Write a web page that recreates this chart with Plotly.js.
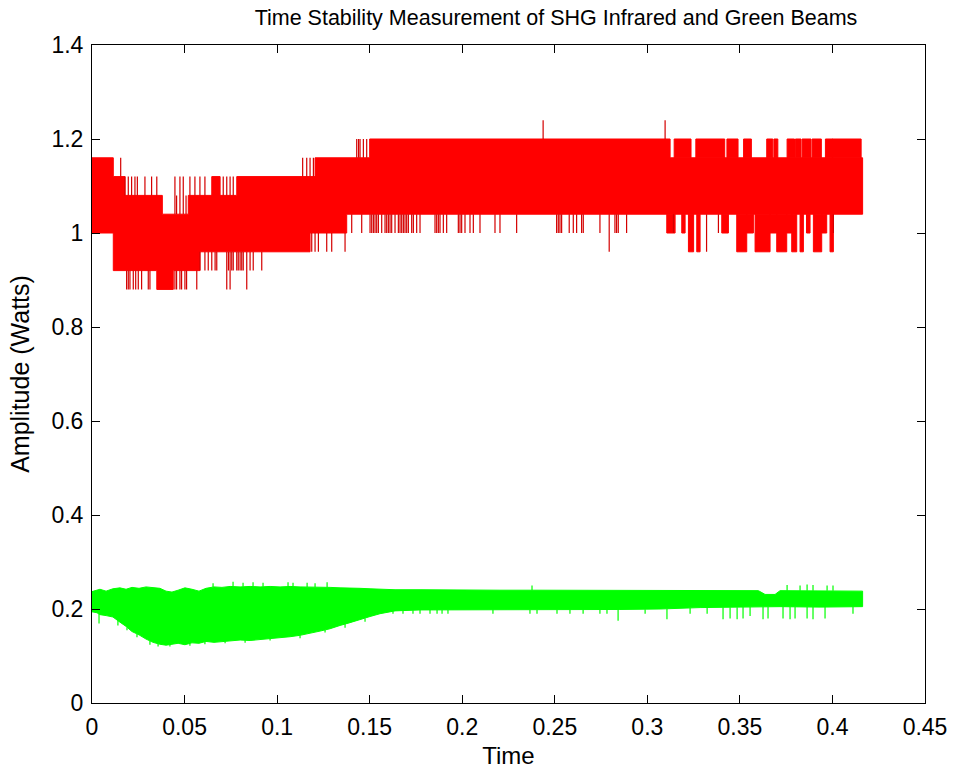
<!DOCTYPE html>
<html><head><meta charset="utf-8">
<script src="https://cdn.plot.ly/plotly-3.0.1.min.js"></script>
<style>html,body{margin:0;padding:0;background:#fff}#chart{width:956px;height:771px}</style>
</head><body><div id="chart"></div>
<script>
// ---------------- Infrared (red) beam ----------------
// solid core band of the quantised signal: breakpoints and hi/lo level per interval
const redCoreT  = [0, 0.0115, 0.0178, 0.035, 0.038, 0.0439, 0.052, 0.0583, 0.0782, 0.1178, 0.1205, 0.1376, 0.150, 0.3123, 0.4163];
const redCoreHi = [1.16, 1.12, 1.08, 1.08, 1.04, 1.04, 1.08, 1.08, 1.12, 1.12, 1.16, 1.16, 1.20, 1.16];
const redCoreLo = [1.00, 0.92, 0.92, 0.88, 0.88, 0.92, 0.92, 0.96, 0.96, 1.00, 1.00, 1.04, 1.04, 1.04];
// single-sample excursions beyond the core (time, level)
const redSpikeT = [0.0155, 0.0178, 0.0196, 0.0214, 0.0232, 0.0245, 0.0286, 0.0322, 0.0350,
  0.0448, 0.0457, 0.0475, 0.0493, 0.0508, 0.0529, 0.0556, 0.0583, 0.0610, 0.0709, 0.0728, 0.0746, 0.0763,
  0.1138, 0.1160, 0.1178, 0.1196, 0.1430, 0.1440, 0.1448, 0.1466, 0.1484, 0.2437, 0.3096,
  0.0187, 0.0196, 0.0205, 0.0223, 0.0236, 0.0250, 0.0268, 0.0304, 0.0313, 0.0448, 0.0457, 0.0475, 0.0484, 0.0502, 0.0511, 0.0566, 0.0728, 0.0746, 0.0836,
  0.0583, 0.0610, 0.0628, 0.0647, 0.0665, 0.0674, 0.0737, 0.0755, 0.0763, 0.0782, 0.0790, 0.0800, 0.0809, 0.0817, 0.0854, 0.0871, 0.0917,
  0.1187, 0.1205, 0.1223, 0.1268, 0.1295, 0.1367,
  0.1403, 0.1457, 0.1538, 0.1502, 0.1511, 0.1520, 0.1529, 0.1547, 0.1565, 0.1583, 0.1592, 0.1601, 0.1610, 0.1619, 0.1637, 0.1655, 0.1664, 0.1673, 0.1682, 0.1691, 0.1700, 0.1709, 0.1727, 0.1736, 0.1754, 0.1772, 0.1853, 0.1862, 0.1871, 0.1880, 0.1898, 0.1916, 0.1979, 0.1988, 0.1997, 0.2015, 0.2042, 0.2060, 0.2096, 0.2177, 0.2204, 0.2294, 0.2510, 0.2519, 0.2528, 0.2537, 0.2600, 0.2618, 0.2645, 0.2654, 0.2744, 0.2825, 0.2834, 0.2843, 0.2888,
  0.2578, 0.2794, 0.3320, 0.3384, 0.4005, 0.3141];
const redSpikeV = [1.16, 1.12, 1.12, 1.12, 1.12, 1.12, 1.12, 1.12, 1.12,
  1.12, 1.08, 1.12, 1.12, 1.08, 1.12, 1.12, 1.12, 1.12, 1.12, 1.12, 1.12, 1.12,
  1.16, 1.16, 1.16, 1.16, 1.20, 1.20, 1.20, 1.20, 1.20, 1.24, 1.24,
  0.88, 0.88, 0.88, 0.88, 0.88, 0.88, 0.88, 0.88, 0.88, 0.88, 0.88, 0.88, 0.88, 0.88, 0.88, 0.88, 0.88, 0.88, 0.88,
  0.92, 0.92, 0.92, 0.92, 0.92, 0.92, 0.92, 0.92, 0.92, 0.92, 0.92, 0.92, 0.92, 0.92, 0.92, 0.92, 0.92,
  0.96, 0.96, 0.96, 0.96, 0.96, 0.96,
  1.00, 1.00, 1.00, 1.00, 1.00, 1.00, 1.00, 1.00, 1.00, 1.00, 1.00, 1.00, 1.00, 1.00, 1.00, 1.00, 1.00, 1.00, 1.00, 1.00, 1.00, 1.00, 1.00, 1.00, 1.00, 1.00, 1.00, 1.00, 1.00, 1.00, 1.00, 1.00, 1.00, 1.00, 1.00, 1.00, 1.00, 1.00, 1.00, 1.00, 1.00, 1.00, 1.00, 1.00, 1.00, 1.00, 1.00, 1.00, 1.00, 1.00, 1.00, 1.00, 1.00, 1.00, 1.00, 1.00,
  0.96, 0.96, 1.00, 1.00, 1.00, 0.96];
// runs of samples beyond the core (start, end, level)
const redRunT0 = [0.0647, 0.3145, 0.3262, 0.3430, 0.3520, 0.3645, 0.3684, 0.3755, 0.3800, 0.3836, 0.3890, 0.3962, 0.3999,
  0.3105, 0.3186, 0.3402, 0.3537, 0.3663, 0.3753, 0.3860, 0.3942,
  0.3222, 0.3267, 0.3483, 0.3582, 0.3699, 0.3780, 0.3825, 0.3897, 0.3987];
const redRunT1 = [0.0692, 0.3236, 0.3418, 0.3490, 0.3562, 0.3678, 0.3705, 0.3795, 0.3830, 0.3884, 0.3940, 0.4002, 0.4155,
  0.3150, 0.3204, 0.3438, 0.3573, 0.3699, 0.3780, 0.3879, 0.3969,
  0.3250, 0.3285, 0.3537, 0.3663, 0.3753, 0.3807, 0.3843, 0.3942, 0.4005];
const redRunV = [1.12, 1.20, 1.20, 1.20, 1.20, 1.20, 1.20, 1.20, 1.20, 1.20, 1.20, 1.20, 1.20,
  1.00, 1.00, 1.00, 1.00, 1.00, 1.00, 1.00, 1.00,
  0.96, 0.96, 0.96, 0.96, 0.96, 0.96, 0.96, 0.96, 0.96];

// ---------------- Green beam ----------------
const greenT  = [0, 0.0027, 0.0043, 0.0076, 0.0113, 0.0151, 0.0184, 0.0216, 0.0254, 0.0292, 0.0330, 0.0367, 0.0400, 0.0432, 0.0465, 0.0502, 0.0540, 0.0578, 0.0616, 0.0659, 0.0702, 0.0746, 0.0800, 0.0854, 0.0908, 0.0962, 0.1016, 0.1070, 0.1124, 0.1178, 0.1232, 0.1286, 0.1340, 0.1394, 0.1448, 0.1502, 0.1556, 0.1637, 0.1772, 0.1988, 0.2204, 0.2420, 0.2636, 0.2852, 0.3069, 0.3285, 0.3501, 0.3600, 0.3636, 0.3690, 0.3717, 0.3933, 0.4163];
const greenHi = [0.237, 0.240, 0.242, 0.238, 0.243, 0.245, 0.242, 0.246, 0.244, 0.247, 0.245, 0.244, 0.238, 0.236, 0.240, 0.245, 0.242, 0.238, 0.244, 0.247, 0.246, 0.248, 0.247, 0.248, 0.247, 0.248, 0.247, 0.248, 0.247, 0.247, 0.246, 0.246, 0.245, 0.245, 0.244, 0.243, 0.242, 0.241, 0.241, 0.240, 0.240, 0.240, 0.240, 0.240, 0.240, 0.239, 0.239, 0.239, 0.231, 0.231, 0.239, 0.239, 0.238];
const greenLo = [0.194, 0.192, 0.188, 0.186, 0.183, 0.172, 0.163, 0.152, 0.145, 0.136, 0.129, 0.125, 0.123, 0.125, 0.127, 0.124, 0.128, 0.127, 0.131, 0.129, 0.131, 0.132, 0.134, 0.133, 0.136, 0.138, 0.139, 0.141, 0.144, 0.148, 0.153, 0.158, 0.165, 0.171, 0.177, 0.184, 0.190, 0.196, 0.198, 0.198, 0.199, 0.198, 0.199, 0.199, 0.200, 0.203, 0.204, 0.205, 0.205, 0.205, 0.205, 0.204, 0.205];
const greenSpikeT = [0.0654, 0.0762, 0.0816, 0.0870, 0.0924, 0.1059, 0.1086, 0.1162, 0.1205, 0.1270, 0.2377, 0.3755, 0.3825, 0.3863, 0.3895, 0.3971, 0.4003,
  0.0038, 0.0140, 0.0189, 0.0243, 0.0313, 0.0357, 0.0421, 0.0529, 0.0610, 0.0719, 0.0827, 0.0962, 0.1124, 0.1259, 0.1367, 0.1475,
  0.1518, 0.1626, 0.1680, 0.1734, 0.1772, 0.1826, 0.1864, 0.1891, 0.1923, 0.2166, 0.2366, 0.2404, 0.2512, 0.2582, 0.2653, 0.2744, 0.2782, 0.2842,
  0.2988, 0.3106, 0.3231, 0.3323, 0.3409, 0.3447, 0.3485, 0.3517, 0.3555, 0.3625, 0.3652, 0.3733, 0.3771, 0.3798, 0.3863, 0.3895, 0.3960, 0.4111];
const greenSpikeV = [0.255, 0.258, 0.256, 0.257, 0.256, 0.257, 0.256, 0.256, 0.255, 0.257, 0.250, 0.251, 0.250, 0.252, 0.251, 0.250, 0.250,
  0.169, 0.165, 0.155, 0.140, 0.124, 0.120, 0.120, 0.122, 0.125, 0.127, 0.128, 0.133, 0.138, 0.150, 0.160, 0.173,
  0.190, 0.190, 0.190, 0.190, 0.190, 0.190, 0.190, 0.190, 0.190, 0.190, 0.190, 0.190, 0.190, 0.190, 0.190, 0.190, 0.190, 0.175,
  0.190, 0.178, 0.190, 0.190, 0.178, 0.180, 0.178, 0.180, 0.185, 0.178, 0.180, 0.180, 0.178, 0.180, 0.180, 0.178, 0.180, 0.190];

// ---------------- text ----------------
const titleText = 'Time Stability Measurement of SHG Infrared and Green Beams';
const xTitle = 'Time';
const yTitle = 'Amplitude (Watts)';

// ---------- helpers that turn the data into drawable paths ----------
function stepAt(ts, vals, t) { let i = 0; while (i < vals.length - 1 && t >= ts[i + 1]) i++; return vals[i]; }
function linAt(ts, vals, t) {
  for (let i = 0; i < ts.length - 1; i++) {
    if (t >= ts[i] && t <= ts[i + 1]) { const f = (t - ts[i]) / (ts[i + 1] - ts[i]); return vals[i] + f * (vals[i + 1] - vals[i]); }
  }
  return vals[vals.length - 1];
}
function stepBand(ts, hi, lo) {
  const x = [], y = [];
  for (let i = 0; i < hi.length; i++) { x.push(ts[i], ts[i + 1]); y.push(hi[i], hi[i]); }
  for (let i = lo.length - 1; i >= 0; i--) { x.push(ts[i + 1], ts[i]); y.push(lo[i], lo[i]); }
  x.push(ts[0]); y.push(hi[0]);
  return { x, y };
}
function linBand(ts, hi, lo) {
  const x = ts.slice(), y = hi.slice();
  for (let i = ts.length - 1; i >= 0; i--) { x.push(ts[i]); y.push(lo[i]); }
  x.push(ts[0]); y.push(hi[0]);
  return { x, y };
}
function excursions(t0s, t1s, vs, edgeFn) {
  const x = [], y = [];
  for (let k = 0; k < t0s.length; k++) {
    const e = edgeFn(t0s[k], vs[k]);
    x.push(t0s[k], t0s[k], t1s[k], t1s[k], t0s[k], null);
    y.push(e, vs[k], vs[k], e, e, null);
  }
  return { x, y };
}
const redEdge = (t, v) => { const h = stepAt(redCoreT, redCoreHi, t), l = stepAt(redCoreT, redCoreLo, t); return v > h ? h : l; };
const greenEdge = (t, v) => { const h = linAt(greenT, greenHi, t), l = linAt(greenT, greenLo, t); return v > h ? h : l; };

const RED = '#ff0000', RED_DK = '#d40000', GREEN = '#00ff00';
const redBand = stepBand(redCoreT, redCoreHi, redCoreLo);
const redThin = excursions(redSpikeT, redSpikeT, redSpikeV, redEdge);
const redRuns = excursions(redRunT0, redRunT1, redRunV, redEdge);
const greenBand = linBand(greenT, greenHi, greenLo);
const greenThin = excursions(greenSpikeT, greenSpikeT, greenSpikeV, greenEdge);

const traces = [
  { x: redBand.x, y: redBand.y, type: 'scatter', mode: 'lines', fill: 'toself', fillcolor: RED, line: { color: RED, width: 1 }, hoverinfo: 'skip' },
  { x: redRuns.x, y: redRuns.y, type: 'scatter', mode: 'lines', fill: 'toself', fillcolor: RED, line: { color: RED, width: 1 }, hoverinfo: 'skip' },
  { x: redThin.x, y: redThin.y, type: 'scatter', mode: 'lines', line: { color: RED_DK, width: 1.2 }, hoverinfo: 'skip' },
  { x: greenBand.x, y: greenBand.y, type: 'scatter', mode: 'lines', fill: 'toself', fillcolor: GREEN, line: { color: GREEN, width: 1 }, hoverinfo: 'skip' },
  { x: greenThin.x, y: greenThin.y, type: 'scatter', mode: 'lines', line: { color: GREEN, width: 1.2 }, hoverinfo: 'skip' }
];

const SANS = '"Liberation Sans", Arial, Helvetica, sans-serif';
const axisCommon = {
  showgrid: false, zeroline: false, showline: true, linecolor: '#000', linewidth: 1,
  mirror: 'ticks', ticks: 'inside', ticklen: 8, tickwidth: 1, tickcolor: '#000',
  tickfont: { family: SANS, size: 23, color: '#000' }
};
const layout = {
  width: 956, height: 771,
  margin: { l: 92, r: 31, t: 45, b: 68 },
  paper_bgcolor: '#fff', plot_bgcolor: '#fff',
  showlegend: false,
  title: { text: titleText, font: { family: SANS, size: 21.5, color: '#000' }, x: 0.557, xref: 'paper', xanchor: 'center', y: 0.977, yref: 'container', yanchor: 'middle' },
  xaxis: Object.assign({}, axisCommon, { range: [0, 0.45], dtick: 0.05, tick0: 0, ticklabelstandoff: 3,
    title: { text: xTitle, font: { family: SANS, size: 24, color: '#000' }, standoff: 8 } }),
  yaxis: Object.assign({}, axisCommon, { range: [0, 1.4], dtick: 0.2, tick0: 0, ticklabelstandoff: 3,
    title: { text: yTitle, font: { family: SANS, size: 25, color: '#000' }, standoff: 14 } })
};
Plotly.newPlot('chart', traces, layout, { staticPlot: true, displayModeBar: false });
</script>
</body></html>
